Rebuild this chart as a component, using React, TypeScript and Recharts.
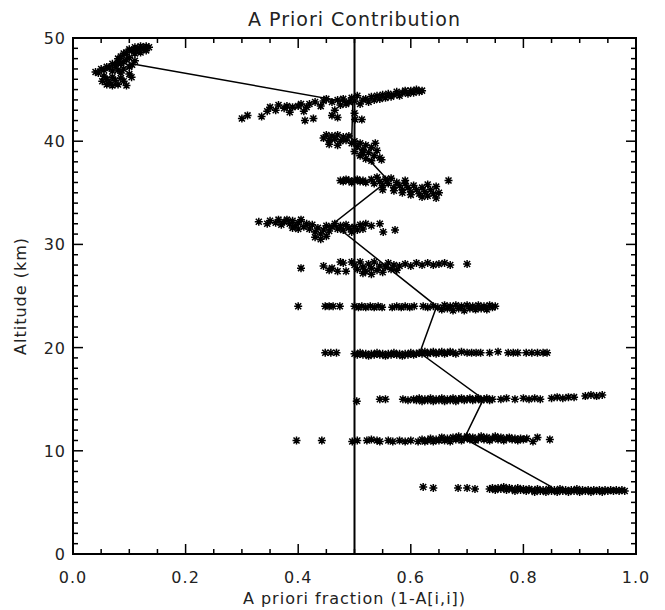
import React from 'react';
import {
  ScatterChart,
  Scatter,
  XAxis,
  YAxis,
  ReferenceLine,
  ReferenceArea,
} from 'recharts';

type Pt = [number, number];

// retrieval bands: [a priori fraction, altitude km]
const band48: Pt[] = [
  [0.135, 49.1], [0.13, 49.2], [0.125, 49.0], [0.12, 49.2], [0.115, 48.9], [0.11, 49.1], [0.105, 48.8],
  [0.1, 48.9], [0.095, 48.6], [0.09, 48.5], [0.13, 48.8], [0.12, 48.6], [0.11, 48.5], [0.085, 48.2],
  [0.08, 48.0], [0.1, 48.1], [0.095, 47.9], [0.09, 47.7], [0.085, 47.5], [0.08, 47.6], [0.075, 47.3],
  [0.07, 47.5], [0.065, 47.1], [0.06, 47.2], [0.055, 46.9], [0.05, 47.0], [0.11, 47.8], [0.105, 47.4],
  [0.1, 47.2], [0.09, 47.0], [0.08, 46.9], [0.07, 46.8], [0.045, 46.6], [0.04, 46.7], [0.055, 46.3],
  [0.06, 46.0], [0.065, 45.7], [0.07, 46.2], [0.075, 45.9], [0.08, 45.5], [0.085, 46.1], [0.09, 45.8],
  [0.095, 45.4], [0.06, 45.5], [0.07, 45.4], [0.052, 45.8], [0.104, 46.2], [0.1, 46.5], [0.085, 46.6],
];

const band44: Pt[] = [
  [0.3, 42.2], [0.31, 42.5], [0.335, 42.4], [0.345, 42.9], [0.35, 43.3], [0.36, 43.0], [0.365, 43.5],
  [0.375, 43.2], [0.38, 43.4], [0.385, 42.8], [0.39, 43.3], [0.4, 43.4], [0.405, 43.6], [0.41, 42.9],
  [0.415, 43.3], [0.42, 43.6], [0.43, 43.8], [0.44, 43.4], [0.445, 43.9], [0.45, 44.1], [0.46, 43.8],
  [0.465, 43.0], [0.47, 44.0], [0.475, 43.5], [0.48, 44.1], [0.485, 43.6], [0.49, 43.8], [0.412, 42.0],
  [0.427, 42.2], [0.46, 42.5], [0.47, 42.3], [0.5, 42.7], [0.513, 42.1], [0.501, 42.1],
  [0.495, 44.2], [0.5, 43.9], [0.505, 44.4], [0.51, 43.6], [0.515, 44.0], [0.52, 44.1], [0.525, 43.8],
  [0.53, 44.3], [0.535, 44.0], [0.54, 44.4], [0.545, 44.1], [0.55, 44.5], [0.555, 44.2], [0.56, 44.6],
  [0.565, 44.3], [0.57, 44.5], [0.575, 44.8], [0.58, 44.4], [0.585, 44.7], [0.59, 44.9], [0.595, 44.6],
  [0.6, 44.9], [0.605, 44.7], [0.61, 45.0], [0.615, 44.8], [0.62, 44.9],
];

const band40: Pt[] = [
  [0.445, 40.3], [0.45, 40.6], [0.455, 40.1], [0.46, 40.5], [0.465, 40.2], [0.47, 40.6], [0.475, 40.0],
  [0.48, 40.4], [0.485, 40.1], [0.49, 40.5], [0.495, 39.8], [0.5, 40.0], [0.505, 39.5], [0.51, 39.8],
  [0.515, 39.2], [0.52, 39.6], [0.525, 38.9], [0.53, 39.4], [0.535, 38.6], [0.54, 39.1], [0.545, 38.4],
  [0.537, 39.8], [0.548, 38.2], [0.5, 39.0], [0.51, 38.6], [0.52, 38.3], [0.53, 38.1], [0.515, 38.9],
  [0.455, 39.7], [0.47, 39.6],
];

const band36: Pt[] = [
  [0.475, 36.2], [0.48, 36.1], [0.485, 36.3], [0.49, 36.2], [0.495, 36.0], [0.5, 36.2], [0.505, 36.3],
  [0.51, 36.1], [0.515, 36.2], [0.52, 36.0], [0.53, 36.3], [0.535, 35.9], [0.54, 36.5], [0.545, 36.1],
  [0.55, 35.7], [0.555, 36.3], [0.56, 35.9], [0.565, 36.4], [0.57, 35.5], [0.575, 36.0], [0.58, 35.7],
  [0.585, 35.3], [0.59, 35.9], [0.595, 35.5], [0.6, 35.1], [0.605, 35.7], [0.61, 35.3], [0.615, 34.9],
  [0.62, 35.5], [0.625, 35.1], [0.63, 34.7], [0.635, 35.3], [0.64, 34.9], [0.645, 34.5], [0.65, 35.0],
  [0.62, 34.6], [0.6, 34.8], [0.585, 35.0], [0.57, 35.2], [0.55, 35.3], [0.667, 36.2], [0.645, 35.6],
  [0.63, 35.8], [0.59, 36.2],
];

const band32: Pt[] = [
  [0.33, 32.2], [0.345, 32.0], [0.35, 32.3], [0.36, 32.1], [0.365, 32.4], [0.37, 31.9], [0.375, 32.2],
  [0.38, 32.4], [0.385, 32.0], [0.39, 32.3], [0.395, 31.8], [0.4, 32.1], [0.405, 32.4], [0.41, 31.7],
  [0.415, 32.0], [0.42, 31.5], [0.425, 31.9], [0.43, 31.2], [0.435, 31.6], [0.44, 31.0], [0.445, 31.4],
  [0.45, 31.8], [0.455, 31.3], [0.46, 31.7], [0.465, 32.0], [0.47, 31.5], [0.475, 31.8], [0.48, 31.4],
  [0.485, 31.9], [0.49, 31.6], [0.495, 31.2], [0.5, 31.7], [0.505, 31.4], [0.51, 31.9], [0.515, 31.5],
  [0.43, 30.7], [0.44, 30.5], [0.45, 30.8], [0.4, 31.5], [0.39, 31.6], [0.545, 32.0], [0.551, 31.2],
  [0.572, 31.4], [0.52, 32.0], [0.53, 31.8],
];

const band28: Pt[] = [
  [0.405, 27.7], [0.445, 27.9], [0.455, 27.5], [0.46, 27.7], [0.47, 27.4], [0.475, 28.3], [0.48, 28.2],
  [0.485, 27.4], [0.495, 28.3], [0.5, 28.0], [0.505, 27.6], [0.51, 28.3], [0.515, 27.8], [0.52, 27.4],
  [0.525, 28.1], [0.53, 27.7], [0.535, 28.3], [0.54, 27.5], [0.545, 27.9], [0.55, 27.3], [0.555, 27.8],
  [0.56, 28.2], [0.565, 27.6], [0.57, 28.0], [0.575, 27.5], [0.58, 27.9], [0.59, 28.1], [0.6, 27.9],
  [0.61, 28.2], [0.62, 28.0], [0.63, 28.2], [0.64, 28.0], [0.65, 28.1], [0.66, 28.2], [0.67, 28.0],
  [0.7, 28.1], [0.515, 27.2], [0.53, 27.1],
];

const band24: Pt[] = [
  [0.4, 24.0], [0.448, 24.0], [0.455, 24.0], [0.462, 24.0], [0.474, 24.0], [0.5, 24.0], [0.507, 23.9],
  [0.513, 24.0], [0.52, 23.9], [0.528, 24.0], [0.535, 23.9], [0.542, 24.0], [0.549, 23.9], [0.567, 23.9],
  [0.575, 24.0], [0.583, 23.9], [0.59, 24.0], [0.598, 23.9], [0.606, 24.0], [0.622, 24.0], [0.63, 23.9],
  [0.64, 24.0], [0.648, 23.9], [0.655, 23.7], [0.66, 24.1], [0.665, 23.8], [0.67, 24.0], [0.675, 23.6],
  [0.68, 24.1], [0.685, 23.8], [0.69, 24.0], [0.695, 23.6], [0.7, 24.1], [0.705, 23.8], [0.71, 24.0],
  [0.715, 23.7], [0.72, 24.1], [0.725, 23.8], [0.73, 24.0], [0.735, 23.7], [0.74, 24.1], [0.745, 23.9],
  [0.75, 24.0],
];

const band19: Pt[] = [
  [0.448, 19.5], [0.458, 19.5], [0.468, 19.5], [0.5, 19.4], [0.505, 19.3], [0.51, 19.5], [0.515, 19.3],
  [0.52, 19.4], [0.525, 19.2], [0.53, 19.4], [0.535, 19.3], [0.54, 19.5], [0.545, 19.3], [0.55, 19.4],
  [0.555, 19.2], [0.56, 19.4], [0.565, 19.3], [0.57, 19.5], [0.575, 19.3], [0.58, 19.4], [0.585, 19.2],
  [0.59, 19.4], [0.595, 19.3], [0.6, 19.5], [0.605, 19.3], [0.61, 19.4], [0.615, 19.5], [0.62, 19.4],
  [0.625, 19.6], [0.63, 19.4], [0.635, 19.5], [0.64, 19.6], [0.645, 19.4], [0.65, 19.5], [0.655, 19.6],
  [0.66, 19.4], [0.665, 19.5], [0.67, 19.6], [0.675, 19.5], [0.68, 19.4], [0.69, 19.6], [0.7, 19.5],
  [0.708, 19.5], [0.716, 19.5], [0.724, 19.5], [0.74, 19.5], [0.755, 19.6], [0.773, 19.5], [0.782, 19.5],
  [0.79, 19.5], [0.805, 19.5], [0.815, 19.5], [0.825, 19.5], [0.835, 19.5], [0.842, 19.5],
];

const band15: Pt[] = [
  [0.504, 14.8], [0.545, 15.0], [0.555, 15.0], [0.586, 15.0], [0.595, 14.9], [0.605, 15.0], [0.61, 14.9],
  [0.615, 15.1], [0.62, 14.8], [0.625, 15.0], [0.63, 14.9], [0.635, 15.1], [0.64, 14.8], [0.645, 15.0],
  [0.65, 14.9], [0.655, 15.1], [0.66, 14.8], [0.665, 15.0], [0.67, 14.9], [0.675, 15.1], [0.68, 14.8],
  [0.685, 15.0], [0.69, 15.1], [0.695, 14.9], [0.7, 15.0], [0.705, 15.1], [0.71, 14.9], [0.715, 15.0],
  [0.72, 15.1], [0.725, 14.9], [0.73, 15.0], [0.735, 15.1], [0.74, 14.9], [0.745, 15.0], [0.76, 15.0],
  [0.77, 15.1], [0.785, 15.0], [0.8, 15.1], [0.81, 15.0], [0.82, 15.1], [0.83, 15.0], [0.85, 15.1],
  [0.86, 15.2], [0.87, 15.1], [0.88, 15.2], [0.89, 15.2], [0.91, 15.3], [0.92, 15.4], [0.93, 15.3],
  [0.94, 15.4],
];

const band11: Pt[] = [
  [0.397, 11.0], [0.442, 11.0], [0.496, 10.9], [0.505, 11.0], [0.522, 11.0], [0.53, 11.1], [0.54, 11.0],
  [0.545, 10.9], [0.56, 11.0], [0.568, 10.9], [0.58, 11.0], [0.59, 10.9], [0.6, 11.0], [0.613, 10.9],
  [0.62, 11.1], [0.625, 10.9], [0.63, 11.0], [0.635, 11.2], [0.64, 10.9], [0.645, 11.1], [0.65, 11.0],
  [0.655, 11.3], [0.66, 11.0], [0.665, 11.2], [0.67, 10.9], [0.675, 11.3], [0.68, 11.1], [0.685, 11.4],
  [0.69, 11.0], [0.695, 11.2], [0.7, 11.4], [0.705, 11.1], [0.71, 11.3], [0.715, 11.0], [0.72, 11.2],
  [0.725, 11.4], [0.73, 11.1], [0.735, 11.3], [0.74, 11.0], [0.745, 11.2], [0.75, 11.4], [0.755, 11.1],
  [0.76, 11.3], [0.765, 11.0], [0.77, 11.2], [0.775, 11.3], [0.78, 11.1], [0.785, 11.2], [0.79, 11.0],
  [0.795, 11.2], [0.8, 11.1], [0.806, 11.2], [0.817, 10.9], [0.825, 11.3], [0.847, 11.1],
];

const band6: Pt[] = [
  [0.622, 6.5], [0.64, 6.4], [0.684, 6.4], [0.7, 6.4], [0.714, 6.3], [0.74, 6.3], [0.745, 6.4],
  [0.75, 6.2], [0.755, 6.4], [0.76, 6.3], [0.765, 6.5], [0.77, 6.2], [0.775, 6.4], [0.78, 6.3],
  [0.785, 6.1], [0.79, 6.4], [0.795, 6.2], [0.8, 6.3], [0.805, 6.1], [0.81, 6.3], [0.815, 6.2],
  [0.82, 6.0], [0.825, 6.3], [0.83, 6.1], [0.835, 6.2], [0.84, 6.0], [0.845, 6.3], [0.85, 6.1],
  [0.855, 6.2], [0.86, 6.0], [0.865, 6.3], [0.87, 6.1], [0.875, 6.2], [0.88, 6.0], [0.885, 6.2],
  [0.89, 6.1], [0.895, 6.3], [0.9, 6.0], [0.905, 6.2], [0.91, 6.1], [0.915, 6.2], [0.92, 6.0],
  [0.925, 6.2], [0.93, 6.1], [0.935, 6.2], [0.94, 6.0], [0.945, 6.2], [0.95, 6.1], [0.955, 6.2],
  [0.96, 6.1], [0.965, 6.2], [0.97, 6.1], [0.975, 6.2], [0.98, 6.1],
];

// mean profile
const profile: Pt[] = [
  [0.104, 47.5], [0.497, 43.7], [0.495, 40.0], [0.56, 36.2], [0.462, 32.0], [0.554, 28.0],
  [0.646, 24.0], [0.616, 19.5], [0.729, 15.0], [0.695, 11.2], [0.85, 6.5],
];

const xTicks = [0, 0.05, 0.1, 0.15, 0.2, 0.25, 0.3, 0.35, 0.4, 0.45, 0.5, 0.55, 0.6, 0.65, 0.7, 0.75, 0.8, 0.85, 0.9, 0.95, 1];
const yTicks = Array.from({ length: 51 }, (_, i) => i);

const toXY = (pts: Pt[]) => pts.map(([x, y]) => ({ x, y }));
const scatterData = toXY([
  ...band48, ...band44, ...band40, ...band36, ...band32, ...band28,
  ...band24, ...band19, ...band15, ...band11, ...band6,
]);
const profileData = toXY(profile);

const W = 665;
const H = 610;
// axes take 1px each, so plot box is 73..636 x 38..554
const margin = { top: 38, right: 29, bottom: 55, left: 72 };
const plotLeft = 73;
const plotW = 636 - 73;
const plotH = 554 - 38;
const font = '"DejaVu Sans", sans-serif';

const Asterisk = (props: any) => {
  const { cx, cy } = props;
  const r = 4;
  const d = 3;
  return (
    <path
      d={`M${cx - r},${cy}H${cx + r}M${cx},${cy - r}V${cy + r}M${cx - d},${cy - d}L${cx + d},${cy + d}M${cx - d},${cy + d}L${cx + d},${cy - d}`}
      stroke="#000"
      strokeWidth={1.5}
      fill="none"
    />
  );
};

const XTick = (props: any) => {
  const { x, y, payload } = props;
  const v = payload.value;
  const major = Math.abs(v * 5 - Math.round(v * 5)) < 1e-6;
  const len = major ? 10 : 5;
  return (
    <g>
      <line x1={x} x2={x} y1={y} y2={y - len} stroke="#000" strokeWidth={1.5} />
      <line x1={x} x2={x} y1={y - plotH} y2={y - plotH + len} stroke="#000" strokeWidth={1.5} />
      {major && (
        <text x={x} y={y + 29} textAnchor="middle" fontFamily={font} fontSize={16} letterSpacing={1} fill="#222">
          {v.toFixed(1)}
        </text>
      )}
    </g>
  );
};

const YTick = (props: any) => {
  const { x, y, payload } = props;
  const v = payload.value;
  const major = v % 10 === 0;
  const len = major ? 10 : 5;
  return (
    <g>
      <line x1={x} x2={x + len} y1={y} y2={y} stroke="#000" strokeWidth={1.5} />
      <line x1={x + plotW} x2={x + plotW - len} y1={y} y2={y} stroke="#000" strokeWidth={1.5} />
      {major && (
        <text x={x - 7} y={y + 6} textAnchor="end" fontFamily={font} fontSize={16} letterSpacing={1} fill="#222">
          {v}
        </text>
      )}
    </g>
  );
};

export default function App() {
  return (
    <div style={{ position: 'relative', width: W, height: H, background: '#fff' }}>
      <style>{'body{margin:0;}'}</style>
      <ScatterChart width={W} height={H} margin={margin}>
        <XAxis
          type="number"
          dataKey="x"
          domain={[0, 1]}
          ticks={xTicks}
          interval={0}
          tickSize={0}
          tickMargin={0}
          tickLine={false}
          height={1}
          axisLine={{ stroke: '#000', strokeWidth: 2 }}
          tick={<XTick />}
          allowDataOverflow
        />
        <YAxis
          type="number"
          dataKey="y"
          domain={[0, 50]}
          ticks={yTicks}
          interval={0}
          tickSize={0}
          tickMargin={0}
          tickLine={false}
          width={1}
          axisLine={{ stroke: '#000', strokeWidth: 2 }}
          tick={<YTick />}
          allowDataOverflow
        />
        <ReferenceArea x1={0} x2={1} y1={0} y2={50} fill="none" stroke="#000" strokeWidth={2} fillOpacity={0} />
        <ReferenceLine x={0.5} stroke="#000" strokeWidth={2} />
        <Scatter data={scatterData} shape={<Asterisk />} isAnimationActive={false} />
        <Scatter
          data={profileData}
          line={{ stroke: '#000', strokeWidth: 1.5 }}
          shape={() => <g />}
          isAnimationActive={false}
        />
        <text x={plotLeft + plotW / 2} y={26} textAnchor="middle" fontFamily={font} fontSize={19} letterSpacing={1} fill="#222">
          A Priori Contribution
        </text>
        <text x={plotLeft + plotW / 2} y={604} textAnchor="middle" fontFamily={font} fontSize={16} letterSpacing={1} fill="#222">
          A priori fraction (1-A[i,i])
        </text>
        <text
          x={26}
          y={38 + plotH / 2}
          textAnchor="middle"
          fontFamily={font}
          fontSize={16}
          letterSpacing={1}
          fill="#222"
          transform={`rotate(-90 26 ${38 + plotH / 2})`}
        >
          Altitude (km)
        </text>
      </ScatterChart>
    </div>
  );
}
